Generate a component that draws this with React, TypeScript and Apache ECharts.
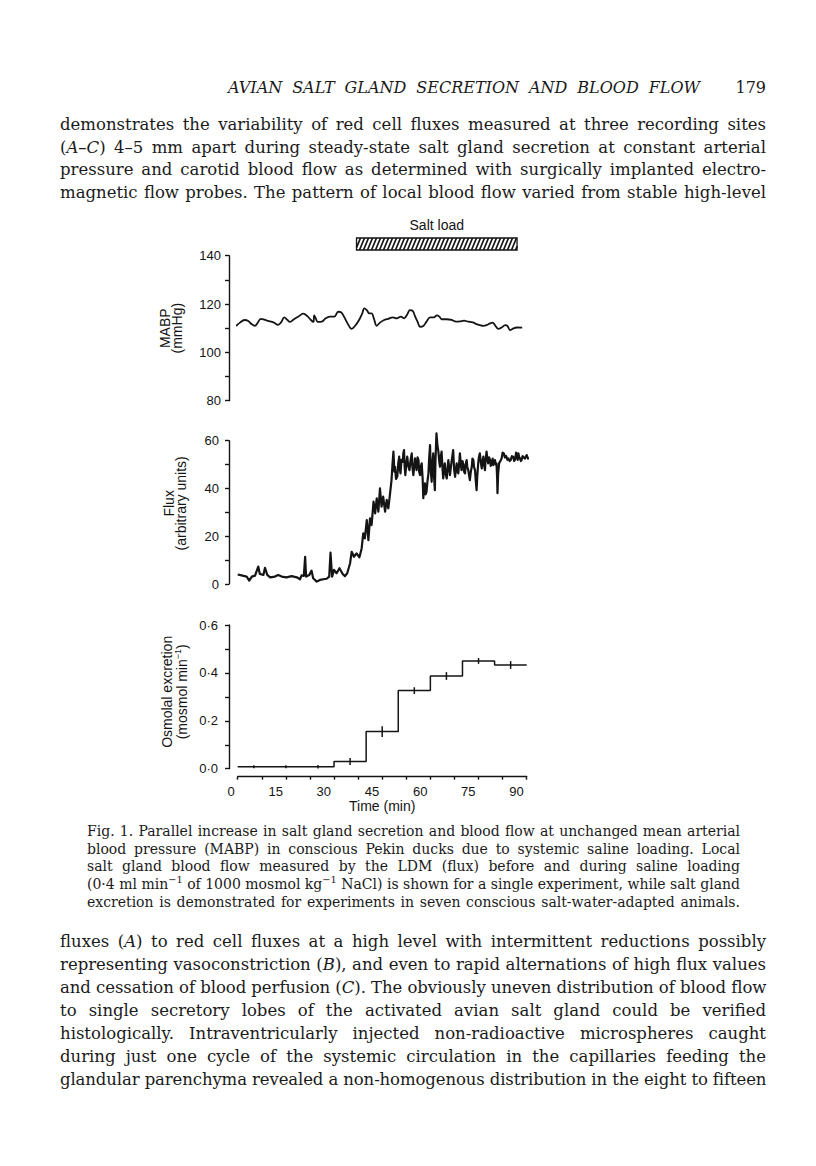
import React, { useEffect, useLayoutEffect, useRef } from "react";
import * as echarts from "echarts";

// ---------- data ----------
const timeTicks = [0, 15, 30, 45, 60, 75, 90];
const saltLoadPeriod = [37, 87]; // min
const saltLoadLabel = "Salt load";

// MABP (mmHg) vs time (min)
const mabpTrace: number[][] = [
  [-0.5, 110.9], [0.7, 112.3], [2.1, 113.4], [3.3, 113.0], [4.3, 111.7], [5.4, 111.0], [6.1, 112.0],
  [7.2, 113.9], [8.5, 113.4], [10.1, 112.8], [11.3, 112.3], [12.6, 111.4], [13.5, 112.4], [14.5, 114.5],
  [15.5, 113.4], [16.3, 112.6], [17.5, 113.7], [18.9, 114.8], [20.4, 116.0], [21.7, 115.0], [22.8, 113.4],
  [23.6, 112.6], [23.8, 115.3], [24.3, 114.1], [24.9, 112.6], [26.2, 112.7], [27.4, 114.1], [28.7, 114.8],
  [30.1, 114.8], [31.3, 116.8], [32.2, 116.6], [33.1, 114.8], [34.2, 112.0], [35.5, 109.7], [36.5, 110.9],
  [37.8, 113.4], [38.8, 116.1], [39.4, 118.2], [40.2, 117.5], [41.0, 116.1], [41.7, 116.1], [42.4, 114.1],
  [43.3, 111.0], [44.3, 112.3], [45.6, 113.4], [46.9, 113.9], [48.3, 114.5], [49.5, 114.1], [50.8, 114.8],
  [51.8, 114.1], [52.8, 115.7], [53.6, 117.5], [54.5, 117.2], [55.2, 115.0], [56.0, 112.7], [56.8, 110.6],
  [57.8, 110.9], [58.8, 112.7], [59.9, 114.5], [61.1, 114.5], [62.0, 115.3], [62.8, 114.8], [63.5, 113.7],
  [65.1, 113.7], [66.6, 113.4], [68.0, 112.7], [69.2, 112.8], [70.5, 113.1], [71.8, 112.7], [73.2, 112.4],
  [74.4, 111.7], [75.4, 111.3], [76.5, 111.0], [77.5, 111.3], [78.6, 112.0], [79.4, 112.3], [80.1, 111.3],
  [81.2, 109.7], [82.2, 110.3], [83.3, 111.3], [84.0, 111.0], [84.8, 109.2], [85.9, 109.9], [86.9, 110.3],
  [88.6, 110.2],
];

// Flux (arbitrary units) vs time (min)
const fluxTrace: number[][] = [
  [0.0, 4.0], [1.2, 3.6], [2.8, 3.1], [3.6, 1.4], [4.4, 3.1], [5.4, 3.5], [6.4, 7.3], [6.9, 4.2], [8.0, 3.8],
  [8.5, 6.8], [9.2, 3.8], [10.1, 2.8], [11.6, 3.1], [12.6, 3.8], [13.7, 3.1], [15.2, 2.8], [16.8, 3.3],
  [18.4, 2.8], [19.4, 2.0], [19.9, 3.6], [20.6, 3.4], [21.0, 11.4], [21.3, 3.1], [22.3, 3.8], [23.0, 5.6],
  [23.5, 2.4], [24.6, 1.0], [25.6, 1.7], [26.7, 2.0], [27.7, 2.2], [28.5, 3.1], [28.9, 13.1], [29.4, 3.1],
  [30.0, 5.9], [30.8, 4.5], [31.7, 6.6], [32.7, 4.2], [33.4, 3.3], [34.1, 4.5], [35.0, 8.7], [35.5, 13.5],
  [36.2, 11.4], [37.0, 12.8], [37.9, 11.2], [38.6, 14.9], [39.1, 21.2], [39.6, 19.1], [40.2, 26.8],
  [40.7, 18.4], [41.2, 27.5], [41.7, 24.7], [42.3, 34.5], [42.8, 29.6], [43.3, 35.9], [43.8, 30.3],
  [44.3, 40.0], [44.8, 32.4], [45.3, 36.6], [45.9, 30.3], [46.4, 35.2], [46.9, 31.7], [47.4, 37.3],
  [47.9, 43.5], [48.2, 50.0], [48.5, 55.4], [48.8, 47.0], [49.0, 49.1], [49.3, 44.0], [49.7, 44.9],
  [50.0, 50.5], [50.3, 53.3], [50.5, 48.0], [50.7, 46.3], [51.0, 52.0], [51.4, 51.2], [51.6, 55.0],
  [51.8, 56.1], [52.0, 49.0], [52.2, 45.6], [52.5, 50.0], [52.8, 53.3], [53.1, 49.5], [53.5, 47.7],
  [53.8, 51.5], [54.2, 54.7], [54.4, 49.0], [54.7, 45.6], [55.0, 49.5], [55.2, 52.6], [55.5, 50.0],
  [55.7, 47.7], [56.0, 53.0], [56.3, 51.9], [56.5, 47.0], [56.8, 45.6], [57.0, 49.0], [57.3, 50.5],
  [57.6, 44.0], [57.8, 35.9], [58.0, 40.0], [58.3, 42.1], [58.5, 37.5], [58.8, 38.6], [59.1, 43.0],
  [59.4, 46.3], [59.6, 52.0], [59.9, 58.2], [60.1, 48.0], [60.4, 42.8], [60.6, 50.0], [60.9, 54.7],
  [61.1, 46.0], [61.4, 39.3], [61.6, 52.0], [61.9, 63.1], [62.2, 58.0], [62.5, 55.4], [62.8, 51.0],
  [63.0, 49.1], [63.2, 53.0], [63.5, 55.4], [63.8, 48.0], [64.0, 44.2], [64.3, 48.5], [64.5, 50.5],
  [64.8, 46.0], [65.1, 44.2], [65.4, 49.0], [65.6, 51.9], [65.9, 48.0], [66.1, 45.6], [66.4, 49.0],
  [66.6, 51.2], [66.9, 54.0], [67.1, 56.1], [67.4, 48.0], [67.7, 44.9], [68.0, 48.5], [68.2, 50.5],
  [68.5, 47.0], [68.7, 46.3], [69.0, 51.0], [69.2, 54.7], [69.5, 50.0], [69.7, 47.7], [70.0, 51.5],
  [70.3, 49.8], [70.5, 47.0], [70.8, 46.3], [71.0, 50.0], [71.3, 51.9], [71.5, 49.0], [71.8, 47.7],
  [72.0, 46.0], [72.3, 43.5], [72.6, 47.0], [72.9, 49.1], [73.1, 52.5], [73.4, 51.9], [73.6, 49.0],
  [73.9, 47.7], [74.1, 44.0], [74.4, 39.3], [74.6, 45.0], [74.9, 50.5], [75.1, 53.0], [75.4, 54.7],
  [75.7, 51.0], [76.0, 48.4], [76.2, 51.0], [76.5, 53.3], [76.7, 50.0], [77.0, 47.7], [77.2, 52.0],
  [77.5, 55.4], [77.8, 52.0], [78.0, 50.5], [78.3, 53.0], [78.6, 51.9], [78.8, 49.5], [79.1, 50.5],
  [79.4, 52.5], [79.6, 49.8], [79.9, 51.0], [80.1, 51.9], [80.4, 50.0], [80.6, 50.5], [80.8, 44.0],
  [80.9, 38.0], [81.1, 46.0], [81.4, 50.5], [81.8, 51.5], [82.2, 52.6], [82.5, 55.0], [82.9, 54.7],
  [83.2, 53.0], [83.6, 53.6], [84.0, 52.0], [84.3, 52.6], [84.7, 51.5], [85.0, 51.9], [85.4, 53.5],
  [85.8, 53.3], [86.1, 51.5], [86.4, 52.2], [86.7, 55.0], [86.9, 54.0], [87.2, 52.0], [87.4, 54.7],
  [87.7, 53.0], [87.9, 52.6], [88.2, 51.5], [88.4, 51.9], [88.7, 53.5], [88.9, 53.3], [89.4, 52.5],
  [90.0, 54.0], [90.4, 52.5], [90.7, 53.0],
];

// Osmolal excretion (mosmol/min), 10-min collection periods
const osmPeriodStart = [0, 10, 20, 30, 40, 50, 60, 70, 80];
const osmPeriodEnd = 90;
const osmMean = [0.008, 0.008, 0.008, 0.03, 0.155, 0.326, 0.387, 0.45, 0.433];
const osmSem = [0.002, 0.002, 0.003, 0.01, 0.018, 0.01, 0.012, 0.008, 0.012];

// ---------- page text ----------
const runningHead = "AVIAN SALT GLAND SECRETION AND BLOOD FLOW";
const pageNumber = "179";
const bodyTop = [
  "demonstrates the variability of red cell fluxes measured at three recording sites",
  "(*A–C*) 4–5 mm apart during steady-state salt gland secretion at constant arterial",
  "pressure and carotid blood flow as determined with surgically implanted electro-",
  "magnetic flow probes. The pattern of local blood flow varied from stable high-level",
];
const captionLines = [
  "Fig. 1. Parallel increase in salt gland secretion and blood flow at unchanged mean arterial",
  "blood pressure (MABP) in conscious Pekin ducks due to systemic saline loading. Local",
  "salt gland blood flow measured by the LDM (flux) before and during saline loading",
  "(0·4 ml min^−1^ of 1000 mosmol kg^−1^ NaCl) is shown for a single experiment, while salt gland",
  "excretion is demonstrated for experiments in seven conscious salt-water-adapted animals.",
];
const bodyBottom = [
  "fluxes (*A*) to red cell fluxes at a high level with intermittent reductions possibly",
  "representing vasoconstriction (*B*), and even to rapid alternations of high flux values",
  "and cessation of blood perfusion (*C*). The obviously uneven distribution of blood flow",
  "to single secretory lobes of the activated avian salt gland could be verified",
  "histologically. Intraventricularly injected non-radioactive microspheres caught",
  "during just one cycle of the systemic circulation in the capillaries feeding the",
  "glandular parenchyma revealed a non-homogenous distribution in the eight to fifteen",
];

const INK = "#141414";
const SANS = '"Liberation Sans", Arial, Helvetica, sans-serif';
const SERIF = '"DejaVu Serif", "Liberation Serif", serif';

function renderMarked(s: string) {
  const parts = s.split(/(\*[^*]+\*|\^[^^]+\^)/);
  return parts.map((p, i) => {
    if (p.startsWith("*") && p.endsWith("*") && p.length > 1)
      return <i key={i}>{p.slice(1, -1)}</i>;
    if (p.startsWith("^") && p.endsWith("^") && p.length > 1)
      return (
        <sup key={i} style={{ fontSize: "0.7em", lineHeight: 0 }}>
          {p.slice(1, -1)}
        </sup>
      );
    return <React.Fragment key={i}>{p}</React.Fragment>;
  });
}

function TextLine(props: {
  text: string;
  left: number;
  width: number;
  center: number;
  size: number;
  lh: number;
  italic?: boolean;
}) {
  return (
    <span
      data-fit={props.width}
      style={{
        position: "absolute",
        left: props.left,
        top: props.center - props.lh / 2,
        height: props.lh,
        display: "inline-block",
        whiteSpace: "nowrap",
        lineHeight: props.lh + "px",
        fontSize: props.size,
        fontFamily: SERIF,
        fontStyle: props.italic ? "italic" : "normal",
        color: "#1a1a1a",
      }}
    >
      {renderMarked(props.text)}
    </span>
  );
}

// justify each printed line to its measure: widen word gaps, or tighten letters if too long
function fitLines(root: HTMLElement) {
  const els = root.querySelectorAll<HTMLElement>("[data-fit]");
  els.forEach((el) => {
    const target = Number(el.dataset.fit);
    el.style.letterSpacing = "0px";
    el.style.wordSpacing = "0px";
    const w = el.getBoundingClientRect().width;
    const txt = el.textContent || "";
    const spaces = (txt.match(/ /g) || []).length;
    const extra = target - w;
    if (extra >= 0 && spaces > 0) {
      el.style.wordSpacing = extra / spaces + "px";
    } else if (txt.length > 0) {
      el.style.letterSpacing = extra / txt.length + "px";
    }
  });
}

export default function App() {
  const ref = useRef<HTMLDivElement>(null);
  const pageRef = useRef<HTMLDivElement>(null);

  useLayoutEffect(() => {
    if (!pageRef.current) return;
    const root = pageRef.current;
    fitLines(root);
    const fonts: any = (document as any).fonts;
    if (fonts && fonts.ready) fonts.ready.then(() => fitLines(root));
  }, []);

  useEffect(() => {
    if (!ref.current) return;
    const chart = echarts.init(ref.current, null, { renderer: "svg" });

    const GL = 237.7;
    const GW = 289;
    const lineStyle = { color: INK, width: 1.4 };
    const labelStyle = { color: INK, fontSize: 13, fontFamily: SANS };
    const nameStyle = { color: INK, fontSize: 14, fontFamily: SANS, lineHeight: 12 };

    const yBase = (gridIndex: number, min: number, max: number, interval: number) => ({
      type: "value",
      gridIndex,
      min,
      max,
      interval,
      offset: 8.7,
      position: "left",
      axisLine: { show: true, onZero: false, lineStyle },
      axisTick: { show: true, inside: false, length: 4, lineStyle },
      splitLine: { show: false },
      nameLocation: "middle",
      nameRotate: 90,
    });

    const stepData: number[][] = osmPeriodStart.map((s, i) => [s, osmMean[i]]);
    stepData.push([osmPeriodEnd, osmMean[osmMean.length - 1]]);
    const errData = osmPeriodStart.map((s, i) => {
      const end = i < osmPeriodStart.length - 1 ? osmPeriodStart[i + 1] : osmPeriodEnd;
      return [(s + end) / 2, osmMean[i] - osmSem[i], osmMean[i] + osmSem[i]];
    });

    const option: any = {
      animation: false,
      grid: [
        { left: GL, width: GW, top: 238, height: 12 },
        { left: GL, width: GW, top: 255.7, height: 145 },
        { left: GL, width: GW, top: 440.7, height: 143.3 },
        { left: GL, width: GW, top: 625, height: 143.7 },
      ].map((g) => ({ ...g, containLabel: false, outerBoundsMode: "none" })),
      xAxis: [
        { type: "value", gridIndex: 0, min: 0, max: 90, show: false },
        { type: "value", gridIndex: 1, min: 0, max: 90, show: false },
        { type: "value", gridIndex: 2, min: 0, max: 90, show: false },
        {
          type: "value",
          gridIndex: 3,
          min: 0,
          max: 90,
          interval: 7.5,
          offset: 8,
          position: "bottom",
          axisLine: { show: true, onZero: false, lineStyle },
          axisTick: { show: true, inside: false, length: 3, lineStyle },
          splitLine: { show: false },
          axisLabel: {
            ...labelStyle,
            margin: 8,
            align: "right",
            padding: [0, 3, 0, 0],
            formatter: (v: number) => (timeTicks.includes(v) ? String(v) : ""),
          },
          name: "Time (min)",
          nameLocation: "middle",
          nameGap: 23,
          nameTextStyle: { ...nameStyle },
        },
      ],
      yAxis: [
        { type: "value", gridIndex: 0, min: 0, max: 1, show: false },
        {
          ...yBase(1, 80, 140, 10),
          axisLabel: {
            ...labelStyle,
            margin: 8,
            formatter: (v: number) => (v % 20 === 0 ? String(v) : ""),
          },
          name: "MABP\n(mmHg)",
          nameGap: 46,
          nameTextStyle: { ...nameStyle },
        },
        {
          ...yBase(2, 0, 60, 10),
          axisLabel: {
            ...labelStyle,
            margin: 10,
            formatter: (v: number) => (v % 20 === 0 ? String(v) : ""),
          },
          name: "Flux\n(arbitrary units)",
          nameGap: 42,
          nameTextStyle: { ...nameStyle, padding: [0, 0, 0, 18] },
        },
        {
          ...yBase(3, 0, 0.6, 0.1),
          axisLabel: {
            ...labelStyle,
            margin: 11,
            formatter: (v: number) => {
              const k = Math.round(v * 10);
              return k % 2 === 0 ? (k / 10).toFixed(1).replace(".", "·") : "";
            },
          },
          name: "Osmolal excretion\n(mosmol min{sup|−1})",
          nameGap: 40,
          nameTextStyle: {
            ...nameStyle,
            lineHeight: 15,
            padding: [0, 0, 0, 10],
            rich: {
              sup: { color: INK, fontSize: 9, fontFamily: SANS, padding: [0, 0, 7, 0] },
            },
          },
        },
      ],
      series: [
        {
          type: "custom",
          xAxisIndex: 0,
          yAxisIndex: 0,
          clip: false,
          silent: true,
          data: [[saltLoadPeriod[0], saltLoadPeriod[1]]],
          encode: { x: [0, 1] },
          renderItem: (_params: any, api: any) => {
            const a = api.coord([api.value(0), 1]);
            const b = api.coord([api.value(1), 0]);
            const left = a[0];
            const top = a[1];
            const right = b[0];
            const bottom = b[1];
            const h = bottom - top;
            const dx = 5;
            const step = 4;
            const children: any[] = [
              {
                type: "rect",
                shape: { x: left, y: top, width: right - left, height: h },
                style: { fill: "#fff", stroke: INK, lineWidth: 1.3 },
              },
            ];
            for (let x0 = left - dx; x0 < right; x0 += step) {
              const s0 = Math.max(0, (left - x0) / dx);
              const s1 = Math.min(1, (right - x0) / dx);
              if (s1 <= s0) continue;
              children.push({
                type: "line",
                shape: {
                  x1: x0 + s0 * dx,
                  y1: bottom - s0 * h,
                  x2: x0 + s1 * dx,
                  y2: bottom - s1 * h,
                },
                style: { stroke: INK, lineWidth: 1.7 },
              });
            }
            children.push({
              type: "text",
              style: {
                text: saltLoadLabel,
                x: (left + right) / 2,
                y: top - 13,
                align: "center",
                verticalAlign: "middle",
                fill: INK,
                fontSize: 14,
                fontFamily: SANS,
              },
            });
            return { type: "group", children };
          },
        },
        {
          type: "line",
          xAxisIndex: 1,
          yAxisIndex: 1,
          data: mabpTrace,
          showSymbol: false,
          smooth: 0.35,
          clip: false,
          lineStyle: { color: INK, width: 1.8 },
        },
        {
          type: "line",
          xAxisIndex: 2,
          yAxisIndex: 2,
          data: fluxTrace,
          showSymbol: false,
          clip: false,
          lineStyle: { color: INK, width: 2.2, join: "round" },
        },
        {
          type: "line",
          xAxisIndex: 3,
          yAxisIndex: 3,
          data: stepData,
          step: "end",
          showSymbol: false,
          clip: false,
          lineStyle: { color: INK, width: 1.5 },
        },
        {
          type: "custom",
          xAxisIndex: 3,
          yAxisIndex: 3,
          clip: false,
          silent: true,
          data: errData,
          encode: { x: 0, y: [1, 2] },
          renderItem: (_params: any, api: any) => {
            const p1 = api.coord([api.value(0), api.value(1)]);
            const p2 = api.coord([api.value(0), api.value(2)]);
            return {
              type: "line",
              shape: { x1: p1[0], y1: p1[1] + 1, x2: p2[0], y2: p2[1] - 1 },
              style: { stroke: INK, lineWidth: 1.5 },
            };
          },
        },
      ],
    };

    chart.setOption(option);
    return () => chart.dispose();
  }, []);

  return (
    <div
      ref={pageRef}
      style={{
        position: "absolute",
        left: 0,
        top: 0,
        width: 816,
        height: 1166,
        background: "#fff",
        overflow: "hidden",
      }}
    >
      <div ref={ref} style={{ position: "absolute", left: 0, top: 0, width: 816, height: 1166 }} />
      <TextLine text={runningHead} left={228} width={472} center={88} size={16} lh={20} italic />
      <div
        style={{
          position: "absolute",
          left: 700,
          width: 66,
          top: 78,
          height: 20,
          lineHeight: "20px",
          fontSize: 16,
          fontFamily: SERIF,
          color: "#1a1a1a",
          textAlign: "right",
        }}
      >
        {pageNumber}
      </div>
      {bodyTop.map((t, i) => (
        <TextLine key={"a" + i} text={t} left={60} width={706} center={125 + i * 22.5} size={16.5} lh={22} />
      ))}
      {captionLines.map((t, i) => (
        <TextLine key={"c" + i} text={t} left={87} width={653} center={831 + i * 17.7} size={14} lh={18} />
      ))}
      {bodyBottom.map((t, i) => (
        <TextLine key={"b" + i} text={t} left={60} width={706} center={942 + i * 23} size={16.5} lh={22} />
      ))}
    </div>
  );
}
